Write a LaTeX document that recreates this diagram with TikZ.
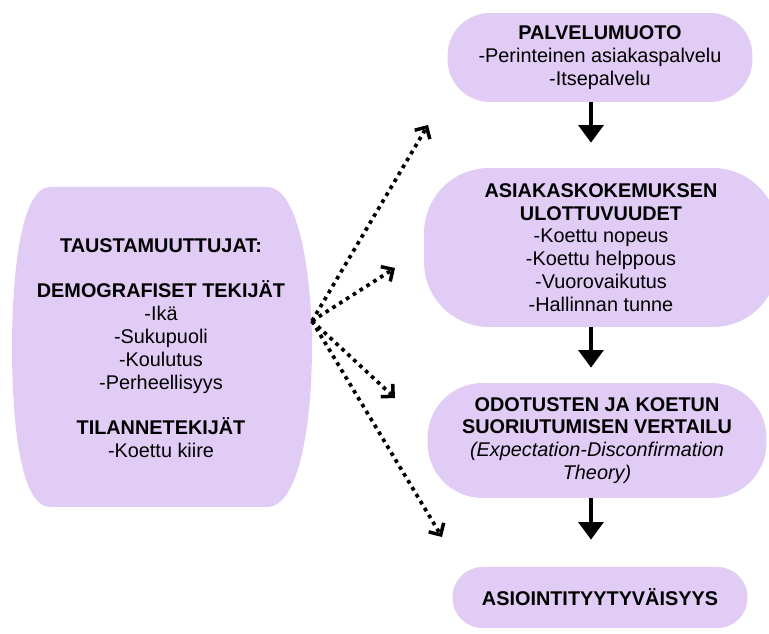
\documentclass[tikz,border=0pt]{standalone}
\usepackage{fontspec}
\setmainfont{Liberation Sans}
\usetikzlibrary{arrows.meta}
\definecolor{lavender}{RGB}{224,204,245}
\tikzset{
  box/.style={fill=lavender, align=center, inner sep=0pt, font=\fontsize{11.3}{13}\selectfont},
  flow/.style={line width=2.4pt, -{Triangle[length=10pt,width=14pt]}},
  hint/.style={line width=2.1pt, dash pattern=on 2.1pt off 2.5pt, -{Straight Barb[length=5pt,width=10pt,line width=2pt]}}
}

\begin{document}
\begin{tikzpicture}[x=0.02cm, y=-0.02cm]
			%%%%% START %%%%%
			\useasboundingbox (0,0) rectangle (769,634);
			
			% left block
			\fill[lavender] (50,187) -- (267,187) .. controls (300,187) and (312,280) .. (312,347)
			  .. controls (312,420) and (300,507) .. (267,507) -- (50,507)
			  .. controls (20,507) and (12,420) .. (12,347) .. controls (12,280) and (20,187) .. (50,187) -- cycle;
			\node[box, fill=none] (tausta) at (161,348) {\textbf{TAUSTAMUUTTUJAT:}\\[13pt]
			  \textbf{DEMOGRAFISET TEKIJÄT}\\-Ikä\\-Sukupuoli\\-Koulutus\\-Perheellisyys\\[13pt]
			  \textbf{TILANNETEKIJÄT}\\-Koettu kiire};
			
			% right column
			\node[box, minimum width=6.1cm, minimum height=1.78cm, rounded corners=0.85cm] (palvelu) at (600,57.5)
			  {\textbf{PALVELUMUOTO}\\-Perinteinen asiakaspalvelu\\-Itsepalvelu};
			\node[box, minimum width=7.08cm, minimum height=3.18cm, rounded corners=1.3cm] (kokemus) at (601,247.5)
			  {\textbf{ASIAKASKOKEMUKSEN}\\\textbf{ULOTTUVUUDET}\\-Koettu nopeus\\-Koettu helppous\\-Vuorovaikutus\\-Hallinnan tunne};
			\node[box, minimum width=6.78cm, minimum height=2.3cm, rounded corners=1.1cm] (vertailu) at (597,440.5)
			  {\textbf{ODOTUSTEN JA KOETUN}\\\textbf{SUORIUTUMISEN VERTAILU}\\\textit{(Expectation-Disconfirmation}\\\textit{Theory)}};
			\node[box, minimum width=5.9cm, minimum height=1.22cm, rounded corners=0.6cm] (tyyty) at (600,597.5)
			  {\textbf{ASIOINTITYYTYVÄISYYS}};
			
			\coordinate (ax) at (591,0);
			\draw[flow, shorten >=0.5cm] (palvelu.south -| ax) -- (kokemus.north -| ax);
			\draw[flow, shorten >=0.3cm] (kokemus.south -| ax) -- (vertailu.north -| ax);
			\draw[flow, shorten >=0.54cm] (vertailu.south -| ax) -- (tyyty.north -| ax);
			
			% dotted links
			\coordinate (src) at (312,321);
			\coordinate (t1) at (428,125);
			\coordinate (t2) at (395,268);
			\coordinate (t3) at (395,398);
			\coordinate (t4) at (442,537);
			\foreach \t in {t1,t2,t3,t4}
			  \draw[hint] (src) -- (\t);
			%%%%% END %%%%%
\end{tikzpicture}
\end{document}
